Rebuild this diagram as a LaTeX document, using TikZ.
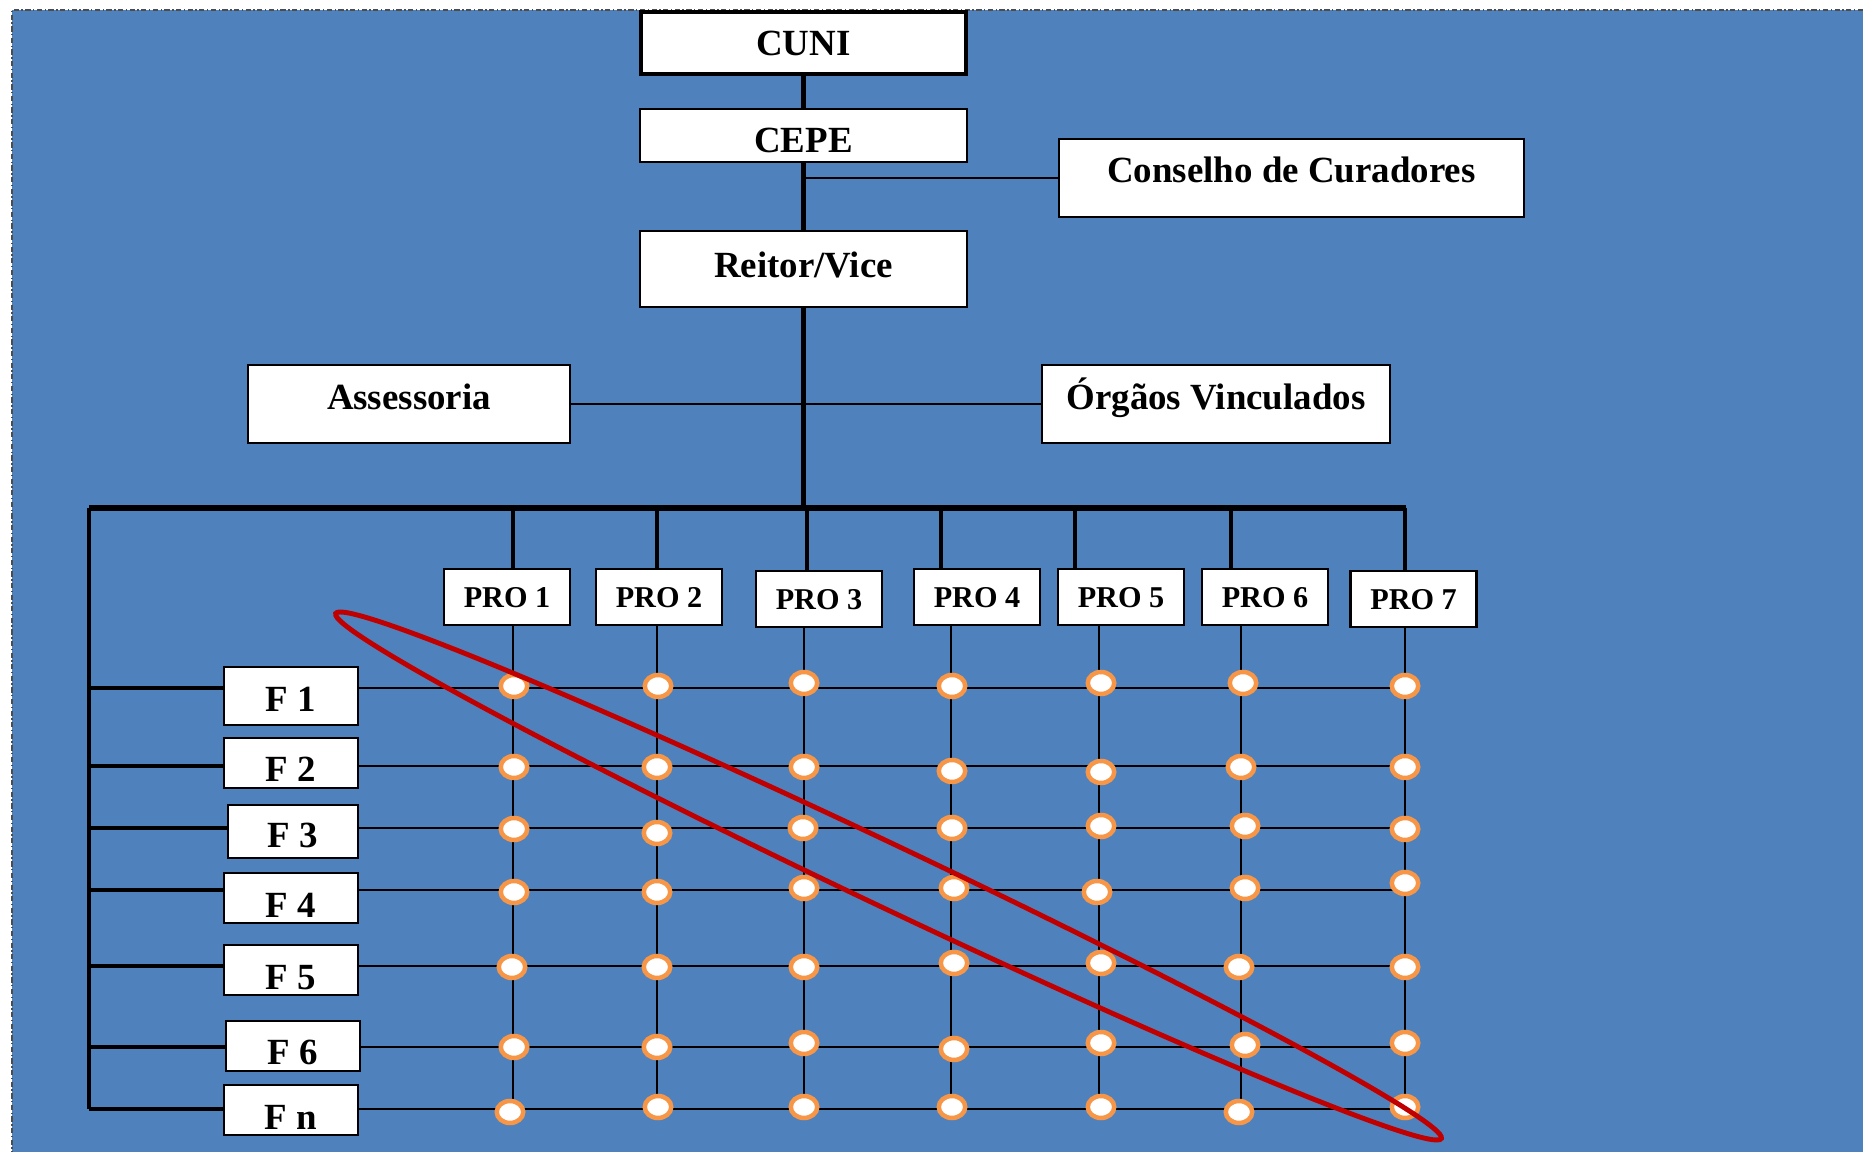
\documentclass[tikz,border=0pt]{standalone}
\usepackage{fontspec}
\setmainfont{Liberation Serif}
\usetikzlibrary{shapes.geometric}

\definecolor{fundo}{HTML}{4F81BD}
\definecolor{laranja}{HTML}{F79646}
\definecolor{vermelho}{HTML}{C00000}

\begin{document}
\begin{tikzpicture}[x=0.1mm, y=-0.1mm,
  caixa/.style={draw, fill=white, line width=0.6pt, inner sep=0pt,
    font=\fontsize{10.5}{12}\selectfont\bfseries, text height=6.95pt, text depth=0pt},
  pro/.style={caixa, minimum width=12.6mm, minimum height=5.6mm,
    font=\fontsize{8.6}{10}\selectfont\bfseries, text height=5.7pt},
  fac/.style={caixa, minimum width=13.4mm, minimum height=5mm},
  grosso/.style={line width=1.3pt},
  barra/.style={line width=1.6pt},
  fino/.style={line width=0.5pt},
  bola/.style={ellipse, draw=laranja, fill=white, line width=1.28pt, inner sep=0pt,
    minimum width=2.65mm, minimum height=2.2mm}]

\useasboundingbox (0,0) rectangle (1863,1152);
\fill[fundo] (12,10) rectangle (1863,1152);
\draw[black!70, line width=0.4pt, dash pattern=on 1.5pt off 0.7pt on 0.4pt off 0.7pt]
  (1863,10) -- (12,10) -- (12,1152);

% conselhos e reitoria
\node[caixa, line width=1.2pt, minimum width=32.5mm, minimum height=6.2mm] (cuni) at (803.5,43) {CUNI};
\node[caixa, minimum width=32.7mm, minimum height=5.3mm, text height=9.8pt] (cepe) at (803.5,135.5) {CEPE};
\node[caixa, minimum width=46.5mm, minimum height=7.8mm, text depth=4.3pt] (curad) at (1291.5,178) {Conselho de Curadores};
\node[caixa, minimum width=32.7mm, minimum height=7.6mm, text depth=2.3pt] (reitor) at (803.5,269) {Reitor/Vice};
\node[caixa, minimum width=32.2mm, minimum height=7.8mm, text depth=3.7pt] (asses) at (409,404) {Assessoria};
\node[caixa, minimum width=34.8mm, minimum height=7.8mm, text depth=3.7pt] (orgaos) at (1216,404) {Órgãos Vinculados};

\draw[line width=1.4pt] (cuni) -- (cepe);
\draw[line width=1.4pt] (cepe) -- (reitor);
\draw[fino] (curad.west) -- (curad.west -| cepe.south);
\draw[fino] (asses) -- (orgaos);

% barramento das pro-reitorias
\coordinate (bl) at (89,508);
\coordinate (br) at (1406,508);
\coordinate (fim) at (89,1109);
\draw[barra] (bl) -- (br);
\draw[grosso] (bl) -- (fim);
\draw[grosso] (reitor.south) -- (reitor.south |- bl);

\node[pro] (pro1) at (507,597) {PRO 1};
\node[pro] (pro2) at (659,597) {PRO 2};
\node[pro] (pro3) at (819,599) {PRO 3};
\node[pro] (pro4) at (977,597) {PRO 4};
\node[pro] (pro5) at (1121,597) {PRO 5};
\node[pro] (pro6) at (1265,597) {PRO 6};
\node[pro] (pro7) at (1413.5,599) {PRO 7};

\node[fac, minimum height=5.8mm, text height=8.65pt] (f1) at (291,696) {F 1};
\node[fac, text height=10.65pt] (f2) at (291,763) {F 2};
\node[fac, minimum width=13mm, minimum height=5.3mm, text height=9.2pt] (f3) at (293,831.5) {F 3};
\node[fac, text height=11.2pt] (f4) at (291,898) {F 4};
\node[fac, text height=11.2pt] (f5) at (291,970) {F 5};
\node[fac, text height=10.65pt] (f6) at (293,1046) {F 6};
\node[fac, text height=11.2pt] (fn) at (291,1110) {F n};

\foreach \i/\x in {1/513, 2/657, 3/807, 4/941, 5/1075, 6/1231, 7/1405}
  \draw[grosso] (bl -| \x,0) -- (pro\i.north -| \x,0);

% grade
\foreach \i/\x in {1/513, 2/657, 3/804, 4/951, 5/1099, 6/1241, 7/1405}
  \draw[fino] (pro\i.south -| \x,0) -- (fim -| \x,0);
\foreach \f/\y in {f1/688, f2/766, f3/828, f4/890, f5/966, f6/1047, fn/1109} {
  \draw[grosso] (bl |- 0,\y) -- (\f.west |- 0,\y);
  \draw[fino] (\f.east |- 0,\y) -- (br |- 0,\y);
}
\foreach \x/\y [count=\k] in {
  514/686, 658/686, 804/683, 952/686, 1101/683, 1243/683, 1405/686,
  514/767, 657/767, 804/767, 952/771, 1101/772, 1241/767, 1405/767,
  514/829, 657/833, 803/828, 952/828, 1101/826, 1245/826, 1405/829,
  514/892, 657/892, 804/888, 954/888, 1097/892, 1245/888, 1405/883,
  512/967, 657/967, 804/967, 954/963, 1101/963, 1239/967, 1405/967,
  514/1047, 657/1047, 804/1043, 954/1049, 1101/1043, 1245/1045, 1405/1043,
  510/1112, 658/1107, 804/1107, 952/1107, 1101/1107, 1239/1112, 1405/1107}
  \node[bola] (b\k) at (\x,\y) {};

\draw[vermelho, line width=1.4pt, rotate around={-25.4:(888.5,876)}]
  (888.5,876) ellipse [x radius=61.2mm, y radius=3.1mm];

\end{tikzpicture}
\end{document}
